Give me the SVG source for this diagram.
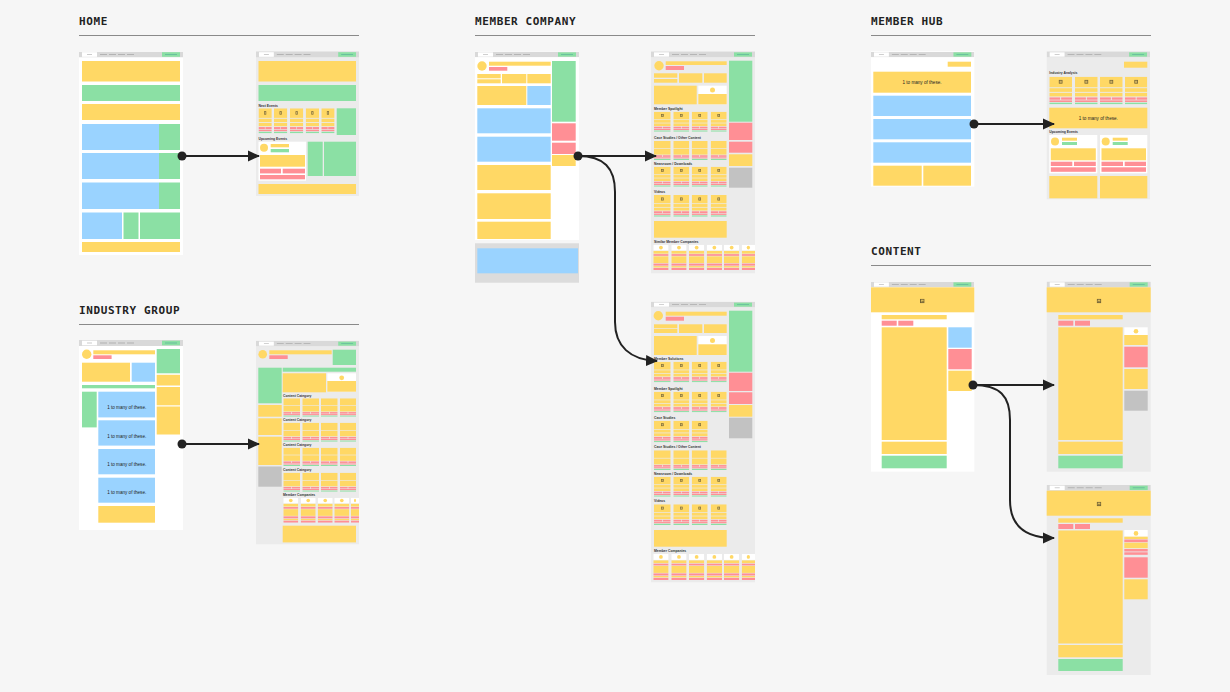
<svg xmlns="http://www.w3.org/2000/svg" xmlns:xlink="http://www.w3.org/1999/xlink" width="1230" height="692" viewBox="0 0 1230 692">
<style>
.y{fill:#FFD865}.g{fill:#8BE0A4}.b{fill:#9AD3FF}.r{fill:#FF8F95}.gr{fill:#C2C2C2}.w{fill:#FFFFFF}.fw{fill:#FFFFFF}.fg{fill:#EBEBEB}
.title{font-family:"DejaVu Sans Mono",monospace;font-weight:bold;font-size:11px;letter-spacing:0.6px;fill:#222}
.rule{stroke:#8a8a8a;stroke-width:1}
.lbl{font-family:"Liberation Sans",Arial,sans-serif;font-weight:bold;font-size:3.4px;fill:#333}
.many{font-family:"Liberation Sans",Arial,sans-serif;font-size:4.6px;fill:#222;text-anchor:middle}
.conn{fill:none;stroke:#222;stroke-width:2}
.dot{fill:#222}
</style>
<defs>
<symbol id="nav" viewBox="0 0 104 6" preserveAspectRatio="none">
<rect fill="#D9D9D9" width="104" height="6"/>
<rect fill="#fff" x="3" y="0.7" width="15" height="4.6"/>
<rect fill="#aaa" x="8" y="2.7" width="5" height="0.6"/>
<rect fill="#999" x="21" y="2.7" width="7" height="0.6"/>
<rect fill="#999" x="30" y="2.7" width="7" height="0.6"/>
<rect fill="#999" x="39" y="2.7" width="7" height="0.6"/>
<rect fill="#999" x="48" y="2.7" width="7" height="0.6"/>
<rect fill="#8BE0A4" x="83" y="0.7" width="18" height="4.6"/>
<rect fill="#5a9" x="86" y="2.7" width="12" height="0.6"/>
</symbol>
<symbol id="card" viewBox="0 0 50 60" preserveAspectRatio="none">
<rect class="y" width="50" height="23"/>
<rect fill="#6d5f34" x="21" y="7" width="8" height="8"/>
<rect fill="#cdb060" x="22.5" y="8.5" width="5" height="5"/>
<rect class="y" y="25" width="50" height="8"/>
<rect class="y" y="35" width="50" height="8"/>
<rect class="r" y="45" width="24" height="5"/>
<rect class="r" x="26" y="45" width="24" height="5"/>
<rect class="r" y="51.5" width="50" height="3.5"/>
<rect class="g" y="56.5" width="50" height="3.5"/>
</symbol>
<symbol id="card2" viewBox="0 0 50 60" preserveAspectRatio="none">
<rect class="y" width="50" height="23"/>
<rect class="y" y="25" width="50" height="18"/>
<rect class="r" y="45" width="24" height="5"/>
<rect class="r" x="26" y="45" width="24" height="5"/>
<rect class="r" y="51.5" width="50" height="3.5"/>
<rect class="g" y="56.5" width="50" height="3.5"/>
</symbol>
<symbol id="mcard" viewBox="0 0 45 75" preserveAspectRatio="none">
<rect class="w" width="45" height="17"/>
<ellipse class="y" cx="22.5" cy="8.5" rx="5.5" ry="5.5"/>
<rect class="y" y="18.5" width="45" height="8"/>
<rect class="r" y="28" width="45" height="5"/>
<rect class="y" y="34.5" width="45" height="20"/>
<rect class="r" y="56" width="45" height="6"/>
<rect class="y" y="63.5" width="45" height="4"/>
<rect class="r" y="69" width="45" height="6"/>
</symbol>
<symbol id="img" viewBox="0 0 10 10">
<rect fill="#6d5f34" width="10" height="10"/>
<rect fill="#d9b95a" x="2" y="2" width="6" height="6"/>
<path fill="#6d5f34" d="M2,8 L4.5,5 L6,6.5 L8,4.5 L8,8 Z"/>
</symbol>
<marker id="arr" viewBox="0 0 12 12" refX="11" refY="6" markerWidth="12" markerHeight="12" markerUnits="userSpaceOnUse" orient="auto">
<path d="M0,0.5 L12,6 L0,11.5 Z" fill="#222"/>
</marker>
</defs>

<rect width="1230" height="692" fill="#F6F6F6"/>

<g id="titles">
<text class="title" x="79" y="25">HOME</text>
<line class="rule" x1="79" y1="35.5" x2="359" y2="35.5"/>
<text class="title" x="79" y="314">INDUSTRY GROUP</text>
<line class="rule" x1="79" y1="324.5" x2="359" y2="324.5"/>
<text class="title" x="475" y="25">MEMBER COMPANY</text>
<line class="rule" x1="475" y1="35.5" x2="755" y2="35.5"/>
<text class="title" x="871" y="25">MEMBER HUB</text>
<line class="rule" x1="871" y1="35.5" x2="1151" y2="35.5"/>
<text class="title" x="871" y="255">CONTENT</text>
<line class="rule" x1="871" y1="265.5" x2="1151" y2="265.5"/>
</g>

<g id="home-left">
<rect class="fw" x="79" y="51" width="104" height="204"/>
<use href="#nav" x="79" y="51.5" width="104" height="6"/>
<rect class="y" x="82" y="61" width="98" height="20.5"/>
<rect class="g" x="82" y="85" width="98" height="16"/>
<rect class="y" x="82" y="104" width="98" height="16"/>
<rect class="b" x="82" y="124" width="77" height="26"/><rect class="g" x="159" y="124" width="21" height="26"/>
<rect class="b" x="82" y="153" width="77" height="26"/><rect class="g" x="159" y="153" width="21" height="26"/>
<rect class="b" x="82" y="182.5" width="77" height="26.5"/><rect class="g" x="159" y="182.5" width="21" height="26.5"/>
<rect class="b" x="82" y="212.5" width="40" height="26.5"/><rect class="g" x="123.5" y="212.5" width="15" height="26.5"/><rect class="g" x="140" y="212.5" width="40" height="26.5"/>
<rect class="y" x="82" y="242" width="98" height="10"/>
</g>

<g id="home-right">
<rect class="fg" x="256" y="51" width="103" height="145"/>
<use href="#nav" x="256" y="51.5" width="103" height="6"/>
<rect class="y" x="258.5" y="61" width="97.5" height="20.5"/>
<rect class="g" x="258.5" y="85" width="97.5" height="16"/>
<text class="lbl" x="258.5" y="106.5">Next Events</text>
<use href="#card" x="258.5" y="108.3" width="13.3" height="25"/>
<use href="#card" x="274" y="108.3" width="13.3" height="25"/>
<use href="#card" x="290" y="108.3" width="13.3" height="25"/>
<use href="#card" x="305.7" y="108.3" width="13.3" height="25"/>
<use href="#card" x="321.3" y="108.3" width="13.3" height="25"/>
<rect class="g" x="336.7" y="108.3" width="19.3" height="26.7"/>
<text class="lbl" x="258.5" y="139.8">Upcoming Events</text>
<rect class="w" x="258.5" y="141.7" width="47.5" height="39"/>
<circle class="y" cx="264" cy="147.7" r="4"/>
<rect class="y" x="270.7" y="144" width="18.3" height="3.3"/>
<rect class="g" x="270.7" y="149" width="18.3" height="3.3"/>
<rect class="y" x="260" y="155" width="45" height="11.7"/>
<rect class="r" x="260" y="168.7" width="21" height="4.7"/><rect class="r" x="282.7" y="168.7" width="22.3" height="4.7"/>
<rect class="r" x="260" y="175" width="45" height="4.3"/>
<rect class="g" x="307.7" y="141.7" width="15" height="34.3"/>
<rect class="g" x="324" y="141.7" width="32" height="34.3"/>
<rect class="y" x="258.5" y="184" width="97.5" height="10"/>
</g>

<g id="industry-left">
<rect class="fw" x="79" y="340" width="104" height="190"/>
<use href="#nav" x="79" y="340" width="104" height="6"/>
<circle class="y" cx="86.7" cy="354.3" r="4.7"/>
<rect class="y" x="93.3" y="350.3" width="61.7" height="4"/>
<rect class="r" x="93.3" y="355.3" width="18.3" height="3.7"/>
<rect class="g" x="156.7" y="349" width="23.3" height="24.3"/>
<rect class="y" x="82" y="362.7" width="48" height="19"/>
<rect class="b" x="131.7" y="362.7" width="23.3" height="19"/>
<rect class="y" x="156.7" y="374.8" width="23.3" height="10.7"/>
<rect class="g" x="82" y="385" width="73" height="3.3"/>
<rect class="y" x="156.7" y="387" width="23.3" height="18.3"/>
<rect class="y" x="156.7" y="406.5" width="23.3" height="28"/>
<rect class="g" x="82" y="391.7" width="14.7" height="35.7"/>
<rect class="b" x="98.3" y="391.7" width="56.7" height="25.7"/>
<rect class="b" x="98.3" y="420.3" width="56.7" height="25.3"/>
<rect class="b" x="98.3" y="449" width="56.7" height="25.3"/>
<rect class="b" x="98.3" y="477.7" width="56.7" height="25"/>
<text class="many" x="126.7" y="409">1 to many of these.</text>
<text class="many" x="126.7" y="437.5">1 to many of these.</text>
<text class="many" x="126.7" y="466">1 to many of these.</text>
<text class="many" x="126.7" y="494.3">1 to many of these.</text>
<rect class="y" x="98.3" y="506" width="56.7" height="16.7"/>
</g>

<g id="industry-right">
<rect class="fg" x="256" y="340.7" width="103" height="203.6"/>
<use href="#nav" x="256" y="341" width="103" height="5.3"/>
<circle class="y" cx="262.7" cy="354.3" r="4.3"/>
<rect class="y" x="269.3" y="350.3" width="62.4" height="4"/>
<rect class="r" x="269.3" y="355.3" width="18.4" height="3.7"/>
<rect class="g" x="332.7" y="349.7" width="23.3" height="15.3"/>
<rect class="g" x="258.3" y="367.7" width="23.4" height="35.6"/>
<rect class="y" x="258.3" y="405" width="23.4" height="11.7"/>
<rect class="y" x="258.3" y="418.3" width="23.4" height="16.7"/>
<rect class="y" x="258.3" y="436.7" width="23.4" height="28.3"/>
<rect class="gr" x="258.3" y="466.5" width="23.4" height="20.2"/>
<rect class="g" x="282.7" y="367.7" width="73.3" height="4"/>
<rect class="y" x="282.7" y="373.3" width="43.3" height="19"/>
<rect class="w" x="327.3" y="373.3" width="28.7" height="18.4"/>
<circle class="y" cx="341.7" cy="377.8" r="2.4"/>
<rect class="y" x="327.3" y="381" width="28.7" height="10.7"/>
<text class="lbl" x="283" y="396.5">Content Category</text>
<use href="#card2" x="283.3" y="398.3" width="16.7" height="18.4"/>
<use href="#card2" x="302.3" y="398.3" width="16.7" height="18.4"/>
<use href="#card2" x="321" y="398.3" width="16.7" height="18.4"/>
<use href="#card2" x="340" y="398.3" width="16" height="18.4"/>
<text class="lbl" x="283" y="421">Content Category</text>
<use href="#card2" x="283.3" y="422.7" width="16.7" height="19"/>
<use href="#card2" x="302.3" y="422.7" width="16.7" height="19"/>
<use href="#card2" x="321" y="422.7" width="16.7" height="19"/>
<use href="#card2" x="340" y="422.7" width="16" height="19"/>
<text class="lbl" x="283" y="446">Content Category</text>
<use href="#card2" x="283.3" y="447.7" width="16.7" height="18.3"/>
<use href="#card2" x="302.3" y="447.7" width="16.7" height="18.3"/>
<use href="#card2" x="321" y="447.7" width="16.7" height="18.3"/>
<use href="#card2" x="340" y="447.7" width="16" height="18.3"/>
<text class="lbl" x="283" y="471">Content Category</text>
<use href="#card2" x="283.3" y="472.7" width="16.7" height="19"/>
<use href="#card2" x="302.3" y="472.7" width="16.7" height="19"/>
<use href="#card2" x="321" y="472.7" width="16.7" height="19"/>
<use href="#card2" x="340" y="472.7" width="16" height="19"/>
<text class="lbl" x="283" y="496">Member Companies</text>
<use href="#mcard" x="283.3" y="497.7" width="15" height="25"/>
<use href="#mcard" x="300.7" y="497.7" width="15" height="25"/>
<use href="#mcard" x="317.7" y="497.7" width="15" height="25"/>
<use href="#mcard" x="334.3" y="497.7" width="15" height="25"/>
<use href="#mcard" x="351" y="497.7" width="8" height="25"/>
<rect class="y" x="282.7" y="525.7" width="73.3" height="16.7"/>
</g>

<g id="member-company-left">
<rect class="fw" x="475" y="51.5" width="104" height="188.5"/>
<rect fill="#DCDCDC" x="475" y="243.3" width="104" height="39.4"/>
<rect class="b" x="477.3" y="248.3" width="100.7" height="25"/>
<use href="#nav" x="475" y="51.7" width="104" height="5.6"/>
<circle class="y" cx="482" cy="66" r="4.7"/>
<rect class="y" x="489" y="61.7" width="61.7" height="4"/>
<rect class="r" x="489" y="67" width="18.3" height="3.7"/>
<rect class="g" x="552" y="61" width="23.7" height="60.7"/>
<rect class="y" x="477.3" y="74" width="23.4" height="4.3"/>
<rect class="y" x="477.3" y="79.3" width="23.4" height="4"/>
<rect class="y" x="502" y="74" width="24.3" height="9.3"/>
<rect class="y" x="527.3" y="74" width="23.4" height="9.3"/>
<rect class="y" x="477.3" y="86" width="49" height="19"/>
<rect class="b" x="527.3" y="86" width="23.4" height="19"/>
<rect class="b" x="477.3" y="108.3" width="73.4" height="25"/>
<rect class="b" x="477.3" y="136.7" width="73.4" height="25"/>
<rect class="y" x="477.3" y="165" width="73.4" height="25"/>
<rect class="y" x="477.3" y="193.3" width="73.4" height="25.7"/>
<rect class="y" x="477.3" y="221.7" width="73.4" height="17.3"/>
<rect class="r" x="552" y="123.3" width="23.7" height="17.4"/>
<rect class="r" x="552" y="142.7" width="23.7" height="11.3"/>
<rect class="y" x="552" y="155" width="23.7" height="11"/>
</g>

<g id="member-company-right-top">
<rect class="fg" x="651" y="51" width="104" height="222.3"/>
<use href="#nav" x="651" y="51.7" width="104" height="5.6"/>
<circle class="y" cx="659" cy="65.7" r="4.7"/>
<rect class="y" x="665.7" y="61.3" width="61" height="3.7"/>
<rect class="r" x="665.7" y="66" width="18.3" height="4"/>
<rect class="g" x="729" y="60.7" width="23.3" height="61"/>
<rect class="y" x="654" y="73.3" width="23.3" height="4.4"/>
<rect class="y" x="654" y="79" width="23.3" height="3.7"/>
<rect class="y" x="679" y="73.3" width="23.3" height="9.4"/>
<rect class="y" x="704" y="73.3" width="22.7" height="9.4"/>
<rect class="y" x="654" y="85.7" width="42.7" height="18.6"/>
<rect class="w" x="698.3" y="85.7" width="28.4" height="18.6"/>
<circle class="y" cx="712.5" cy="90" r="2.5"/>
<rect class="y" x="698.3" y="94" width="28.4" height="10.3"/>
<rect class="r" x="729" y="122.7" width="23.3" height="17.3"/>
<rect class="r" x="729" y="141.7" width="23.3" height="11"/>
<rect class="y" x="729" y="154.3" width="23.3" height="11.7"/>
<rect class="gr" x="729" y="167.7" width="23.3" height="20"/>
<text class="lbl" x="654" y="109.5">Member Spotlight</text>
<use href="#card" x="654" y="111.7" width="16.7" height="20"/>
<use href="#card" x="673.3" y="111.7" width="16" height="20"/>
<use href="#card" x="691.7" y="111.7" width="16" height="20"/>
<use href="#card" x="710.7" y="111.7" width="16" height="20"/>
<text class="lbl" x="654" y="139">Case Studies / Other Content</text>
<use href="#card2" x="654" y="141" width="16.7" height="19"/>
<use href="#card2" x="673.3" y="141" width="16" height="19"/>
<use href="#card2" x="691.7" y="141" width="16" height="19"/>
<use href="#card2" x="710.7" y="141" width="16" height="19"/>
<text class="lbl" x="654" y="164.5">Newsroom / Downloads</text>
<use href="#card" x="654" y="166.7" width="16.7" height="20"/>
<use href="#card" x="673.3" y="166.7" width="16" height="20"/>
<use href="#card" x="691.7" y="166.7" width="16" height="20"/>
<use href="#card" x="710.7" y="166.7" width="16" height="20"/>
<text class="lbl" x="654" y="192.8">Videos</text>
<use href="#card" x="654" y="195" width="16.7" height="21.7"/>
<use href="#card" x="673.3" y="195" width="16" height="21.7"/>
<use href="#card" x="691.7" y="195" width="16" height="21.7"/>
<use href="#card" x="710.7" y="195" width="16" height="21.7"/>
<rect class="y" x="654" y="221" width="72.7" height="16.7"/>
<text class="lbl" x="654" y="242.5">Similar Member Companies</text>
<use href="#mcard" x="653.3" y="244.7" width="15.3" height="25.3"/>
<use href="#mcard" x="671.3" y="244.7" width="15.3" height="25.3"/>
<use href="#mcard" x="689" y="244.7" width="15.3" height="25.3"/>
<use href="#mcard" x="706.7" y="244.7" width="15.3" height="25.3"/>
<use href="#mcard" x="724" y="244.7" width="15.3" height="25.3"/>
<use href="#mcard" x="741.7" y="244.7" width="13.3" height="25.3"/>
</g>

<g id="member-company-right-bottom">
<rect class="fg" x="651" y="301.7" width="104" height="280.6"/>
<use href="#nav" x="651" y="302" width="104" height="5.3"/>
<circle class="y" cx="658.3" cy="315.7" r="4.7"/>
<rect class="y" x="665.7" y="311.7" width="61" height="4"/>
<rect class="r" x="665.7" y="316.7" width="18.3" height="4"/>
<rect class="g" x="729" y="310.7" width="23.3" height="61"/>
<rect class="y" x="654" y="324.3" width="23.3" height="4"/>
<rect class="y" x="654" y="329" width="23.3" height="4"/>
<rect class="y" x="679" y="324.3" width="23.3" height="8.7"/>
<rect class="y" x="704" y="324.3" width="22.7" height="8.7"/>
<rect class="y" x="654" y="336" width="42.7" height="19"/>
<rect class="w" x="698.3" y="336" width="28.4" height="19"/>
<circle class="y" cx="712.5" cy="340.5" r="2.5"/>
<rect class="y" x="698.3" y="344.3" width="28.4" height="10.7"/>
<rect class="r" x="729" y="372.7" width="23.3" height="18.3"/>
<rect class="r" x="729" y="392.3" width="23.3" height="11.7"/>
<rect class="y" x="729" y="405" width="23.3" height="11.7"/>
<rect class="gr" x="729" y="417.7" width="23.3" height="20.6"/>
<text class="lbl" x="654" y="359.5">Member Solutions</text>
<use href="#card" x="654" y="361.7" width="16.7" height="20.6"/>
<use href="#card" x="673.3" y="361.7" width="16" height="20.6"/>
<use href="#card" x="691.7" y="361.7" width="16" height="20.6"/>
<use href="#card" x="710.7" y="361.7" width="16" height="20.6"/>
<text class="lbl" x="654" y="389.5">Member Spotlight</text>
<use href="#card" x="654" y="391.7" width="16.7" height="20.6"/>
<use href="#card" x="673.3" y="391.7" width="16" height="20.6"/>
<use href="#card" x="691.7" y="391.7" width="16" height="20.6"/>
<use href="#card" x="710.7" y="391.7" width="16" height="20.6"/>
<text class="lbl" x="654" y="418.5">Case Studies</text>
<use href="#card" x="654" y="420.7" width="16.7" height="21.6"/>
<use href="#card" x="673.3" y="420.7" width="16" height="21.6"/>
<use href="#card" x="691.7" y="420.7" width="16" height="21.6"/>
<text class="lbl" x="654" y="448.2">Case Studies / Other Content</text>
<use href="#card2" x="654" y="450.3" width="16.7" height="19.7"/>
<use href="#card2" x="673.3" y="450.3" width="16" height="19.7"/>
<use href="#card2" x="691.7" y="450.3" width="16" height="19.7"/>
<use href="#card2" x="710.7" y="450.3" width="16" height="19.7"/>
<text class="lbl" x="654" y="474.5">Newsroom / Downloads</text>
<use href="#card" x="654" y="476.7" width="16.7" height="20"/>
<use href="#card" x="673.3" y="476.7" width="16" height="20"/>
<use href="#card" x="691.7" y="476.7" width="16" height="20"/>
<use href="#card" x="710.7" y="476.7" width="16" height="20"/>
<text class="lbl" x="654" y="502.2">Videos</text>
<use href="#card" x="654" y="504.3" width="16.7" height="20.7"/>
<use href="#card" x="673.3" y="504.3" width="16" height="20.7"/>
<use href="#card" x="691.7" y="504.3" width="16" height="20.7"/>
<use href="#card" x="710.7" y="504.3" width="16" height="20.7"/>
<rect class="y" x="654" y="530" width="72.7" height="16.7"/>
<text class="lbl" x="654" y="551.8">Member Companies</text>
<use href="#mcard" x="653.3" y="554" width="15.3" height="26"/>
<use href="#mcard" x="671.3" y="554" width="15.3" height="26"/>
<use href="#mcard" x="689" y="554" width="15.3" height="26"/>
<use href="#mcard" x="706.7" y="554" width="15.3" height="26"/>
<use href="#mcard" x="724" y="554" width="15.3" height="26"/>
<use href="#mcard" x="741.7" y="554" width="13.3" height="26"/>
</g>

<g id="member-hub-left">
<rect class="fw" x="871" y="51" width="103.3" height="135.7"/>
<use href="#nav" x="871" y="51.7" width="103.3" height="5.6"/>
<rect class="y" x="947.7" y="61.7" width="23.3" height="5"/>
<rect class="y" x="873.3" y="71.7" width="97.7" height="21"/>
<text class="many" x="922" y="83.8">1 to many of these.</text>
<rect class="b" x="873.3" y="95.7" width="97.7" height="20.3"/>
<rect class="b" x="873.3" y="119" width="97.7" height="20.3"/>
<rect class="b" x="873.3" y="142.3" width="97.7" height="20.4"/>
<rect class="y" x="873.3" y="165.7" width="48.4" height="20"/>
<rect class="y" x="923.3" y="165.7" width="47.7" height="20"/>
</g>

<g id="member-hub-right">
<rect class="fg" x="1046.7" y="51" width="103.3" height="148.3"/>
<use href="#nav" x="1046.7" y="51.7" width="103.3" height="5.6"/>
<rect class="y" x="1124" y="61.7" width="23.3" height="6"/>
<text class="lbl" x="1049.3" y="74">Industry Analysis</text>
<use href="#card" x="1049.3" y="76.7" width="22.7" height="27.6"/>
<use href="#card" x="1075" y="76.7" width="22.7" height="27.6"/>
<use href="#card" x="1100" y="76.7" width="22.7" height="27.6"/>
<use href="#card" x="1125" y="76.7" width="22.3" height="27.6"/>
<rect class="y" x="1049.3" y="107.7" width="98" height="20.6"/>
<text class="many" x="1098.3" y="119.5">1 to many of these.</text>
<text class="lbl" x="1049.3" y="132.8">Upcoming Events</text>
<rect class="w" x="1049.3" y="135" width="48" height="38.3"/>
<circle class="y" cx="1055" cy="141.5" r="4"/>
<rect class="y" x="1062" y="137.7" width="15" height="3"/>
<rect class="g" x="1062" y="142" width="15" height="3"/>
<rect class="y" x="1050.8" y="148.3" width="45" height="12"/>
<rect class="r" x="1050.8" y="161.7" width="21.5" height="4.3"/>
<rect class="r" x="1074" y="161.7" width="21.8" height="4.3"/>
<rect class="r" x="1050.8" y="167.3" width="45" height="4.5"/>
<rect class="w" x="1100" y="135" width="47.3" height="38.3"/>
<circle class="y" cx="1105.7" cy="141.5" r="4"/>
<rect class="y" x="1112.7" y="137.7" width="15" height="3"/>
<rect class="g" x="1112.7" y="142" width="15" height="3"/>
<rect class="y" x="1101.5" y="148.3" width="44.5" height="12"/>
<rect class="r" x="1101.5" y="161.7" width="21.5" height="4.3"/>
<rect class="r" x="1124.7" y="161.7" width="21.3" height="4.3"/>
<rect class="r" x="1101.5" y="167.3" width="44.5" height="4.5"/>
<rect class="y" x="1049.3" y="176" width="48" height="22.3"/>
<rect class="y" x="1100" y="176" width="47.3" height="22.3"/>
</g>

<g id="content-left">
<rect class="fw" x="871" y="281.7" width="103.3" height="190"/>
<use href="#nav" x="871" y="281.7" width="103.3" height="5.6"/>
<rect class="y" x="871" y="287.3" width="103.3" height="25"/>
<use href="#img" x="920" y="298.7" width="4.6" height="4.6"/>
<rect class="y" x="881.7" y="315" width="65" height="4.3"/>
<rect class="r" x="881.7" y="320.7" width="15" height="5"/>
<rect class="r" x="898.3" y="320.7" width="15" height="5"/>
<rect class="y" x="881.7" y="327.3" width="65" height="112.7"/>
<rect class="y" x="881.7" y="441.7" width="65" height="12.3"/>
<rect class="g" x="881.7" y="455.7" width="65" height="12.6"/>
<rect class="b" x="948.3" y="327.3" width="23.4" height="20.4"/>
<rect class="r" x="948.3" y="349" width="23.4" height="20.3"/>
<rect class="y" x="948.3" y="370.7" width="23.4" height="20.3"/>
</g>

<g id="content-right-top">
<rect class="fg" x="1046.7" y="281.7" width="104" height="190"/>
<use href="#nav" x="1046.7" y="281.7" width="104" height="5.6"/>
<rect class="y" x="1046.7" y="287.3" width="104" height="25"/>
<use href="#img" x="1096.7" y="298.7" width="4.6" height="4.6"/>
<rect class="y" x="1058.3" y="315" width="64.4" height="4.3"/>
<rect class="r" x="1058.3" y="320.7" width="15" height="5"/>
<rect class="r" x="1075" y="320.7" width="15" height="5"/>
<rect class="y" x="1058.3" y="327.3" width="64.4" height="112.7"/>
<rect class="y" x="1058.3" y="441.7" width="64.4" height="12.3"/>
<rect class="g" x="1058.3" y="455.7" width="64.4" height="12.6"/>
<rect class="w" x="1124.3" y="327.3" width="23.4" height="7.7"/>
<circle class="y" cx="1136" cy="331.2" r="2.3"/>
<rect class="y" x="1124.3" y="335" width="23.4" height="10"/>
<rect class="r" x="1124.3" y="346.7" width="23.4" height="20.6"/>
<rect class="y" x="1124.3" y="369" width="23.4" height="20"/>
<rect class="gr" x="1124.3" y="390.7" width="23.4" height="20"/>
</g>

<g id="content-right-bottom">
<rect class="fg" x="1046.7" y="485" width="104" height="190"/>
<use href="#nav" x="1046.7" y="485" width="104" height="5.7"/>
<rect class="y" x="1046.7" y="490.7" width="104" height="25"/>
<use href="#img" x="1096.7" y="501.7" width="4.6" height="4.6"/>
<rect class="y" x="1058.3" y="518.3" width="64.4" height="4.4"/>
<rect class="r" x="1058.3" y="524" width="15" height="5"/>
<rect class="r" x="1075" y="524" width="15" height="5"/>
<rect class="y" x="1058.3" y="530.5" width="64.4" height="113"/>
<rect class="y" x="1058.3" y="645" width="64.4" height="12.3"/>
<rect class="g" x="1058.3" y="659" width="64.4" height="12"/>
<rect class="w" x="1124.3" y="530" width="23.4" height="6.7"/>
<circle class="y" cx="1136" cy="533.4" r="2.3"/>
<rect class="y" x="1124.3" y="536.7" width="23.4" height="2.4"/>
<rect class="r" x="1124.3" y="539.5" width="23.4" height="2.7"/>
<rect class="y" x="1124.3" y="542.7" width="23.4" height="5.5"/>
<rect class="r" x="1124.3" y="549" width="23.4" height="2.5"/>
<rect class="r" x="1124.3" y="552.3" width="23.4" height="2.5"/>
<rect class="r" x="1124.3" y="557.3" width="23.4" height="20.4"/>
<rect class="y" x="1124.3" y="579.3" width="23.4" height="20"/>
</g>

<g id="connectors">
<path class="conn" d="M182,156 H259" marker-end="url(#arr)"/>
<circle class="dot" cx="182" cy="156" r="4.5"/>
<path class="conn" d="M182,444 H259" marker-end="url(#arr)"/>
<circle class="dot" cx="182" cy="444" r="4.5"/>
<path class="conn" d="M578,156 H656" marker-end="url(#arr)"/>
<path class="conn" d="M578,156 C604,156 615,168 615,192 V322 C615,346 630,360 657,361" marker-end="url(#arr)"/>
<circle class="dot" cx="578" cy="156" r="4.5"/>
<path class="conn" d="M974,124 H1054" marker-end="url(#arr)"/>
<circle class="dot" cx="974" cy="124" r="4.5"/>
<path class="conn" d="M973,385 H1054" marker-end="url(#arr)"/>
<path class="conn" d="M973,385 C1000,385 1010,396 1010,420 V500 C1010,525 1024,538 1054,538" marker-end="url(#arr)"/>
<circle class="dot" cx="973" cy="385" r="4.5"/>
</g>
</svg>
